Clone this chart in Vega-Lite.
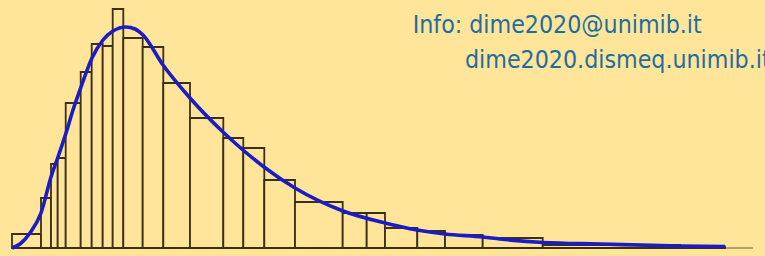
{
  "$schema": "https://vega.github.io/schema/vega-lite/v6.json",
  "width": 765,
  "height": 256,
  "autosize": {"type": "none"},
  "padding": 0,
  "background": "#FFE59A",
  "config": {"view": {"stroke": null}},
  "datasets": {
    "bins": [
      {"x0": 1.2, "x1": 4.1, "freq": 14},
      {"x0": 4.1, "x1": 5.1, "freq": 50},
      {"x0": 5.1, "x1": 5.77, "freq": 84},
      {"x0": 5.77, "x1": 6.57, "freq": 90},
      {"x0": 6.57, "x1": 8.07, "freq": 145},
      {"x0": 8.07, "x1": 9.17, "freq": 176},
      {"x0": 9.17, "x1": 10.27, "freq": 204},
      {"x0": 10.27, "x1": 11.27, "freq": 202},
      {"x0": 11.27, "x1": 12.33, "freq": 239},
      {"x0": 12.33, "x1": 14.27, "freq": 210},
      {"x0": 14.27, "x1": 16.33, "freq": 201},
      {"x0": 16.33, "x1": 19.0, "freq": 165},
      {"x0": 19.0, "x1": 22.33, "freq": 130},
      {"x0": 22.33, "x1": 24.33, "freq": 110},
      {"x0": 24.33, "x1": 26.43, "freq": 100},
      {"x0": 26.43, "x1": 29.5, "freq": 68},
      {"x0": 29.5, "x1": 34.27, "freq": 46},
      {"x0": 34.27, "x1": 36.67, "freq": 35},
      {"x0": 36.67, "x1": 38.5, "freq": 35},
      {"x0": 38.5, "x1": 41.73, "freq": 20},
      {"x0": 41.73, "x1": 44.5, "freq": 17},
      {"x0": 44.5, "x1": 48.27, "freq": 13},
      {"x0": 48.27, "x1": 54.27, "freq": 10},
      {"x0": 54.27, "x1": 68.0, "freq": 3},
      {"x0": 68.0, "x1": 72.5, "freq": 1.5}
    ],
    "curve": [
      {"x": 1.2, "d": 0},
      {"x": 2.0, "d": 4},
      {"x": 3.0, "d": 15},
      {"x": 4.1, "d": 35},
      {"x": 5.1, "d": 71},
      {"x": 5.8, "d": 91},
      {"x": 6.6, "d": 115},
      {"x": 7.3, "d": 138},
      {"x": 8.1, "d": 161},
      {"x": 9.2, "d": 190},
      {"x": 10.3, "d": 208},
      {"x": 11.3, "d": 217},
      {"x": 12.6, "d": 221},
      {"x": 13.5, "d": 219},
      {"x": 14.3, "d": 213},
      {"x": 16.3, "d": 183},
      {"x": 19.0, "d": 150},
      {"x": 22.3, "d": 116},
      {"x": 24.3, "d": 98},
      {"x": 26.4, "d": 81},
      {"x": 29.5, "d": 60},
      {"x": 34.3, "d": 37},
      {"x": 38.5, "d": 25},
      {"x": 41.7, "d": 18},
      {"x": 44.5, "d": 14},
      {"x": 48.3, "d": 11},
      {"x": 50.0, "d": 9},
      {"x": 54.3, "d": 5.5},
      {"x": 60.0, "d": 4},
      {"x": 68.0, "d": 2},
      {"x": 72.5, "d": 1.5}
    ],
    "axisline": [{"from": 1.2, "to": 75.3, "level": 0}],
    "info": [
      {"line": "Info: dime2020@unimib.it", "px": 41.27, "py": 215},
      {"line": "dime2020.dismeq.unimib.it", "px": 46.5, "py": 180}
    ]
  },
  "layer": [
    {
      "data": {"name": "axisline"},
      "mark": {"type": "rule", "color": "#6b5a30", "strokeWidth": 1},
      "encoding": {
        "x": {"field": "from", "type": "quantitative", "scale": {"domain": [0, 76.5]}, "axis": null},
        "x2": {"field": "to"},
        "y": {"field": "level", "type": "quantitative", "scale": {"domain": [-8, 248]}, "axis": null}
      }
    },
    {
      "data": {"name": "bins"},
      "mark": {"type": "bar", "fill": "#FFE59A", "stroke": "#3d2f15", "strokeWidth": 1.8},
      "encoding": {
        "x": {"field": "x0", "type": "quantitative", "scale": {"domain": [0, 76.5]}, "axis": null},
        "x2": {"field": "x1"},
        "y": {"field": "freq", "type": "quantitative", "scale": {"domain": [-8, 248]}, "axis": null},
        "y2": {"datum": 0}
      }
    },
    {
      "data": {"name": "curve"},
      "mark": {"type": "line", "color": "#1c1cc4", "strokeWidth": 3.6, "interpolate": "monotone"},
      "encoding": {
        "x": {"field": "x", "type": "quantitative", "scale": {"domain": [0, 76.5]}, "axis": null},
        "y": {"field": "d", "type": "quantitative", "scale": {"domain": [-8, 248]}, "axis": null}
      }
    },
    {
      "data": {"name": "info"},
      "mark": {"type": "text", "align": "left", "baseline": "alphabetic", "font": "DejaVu Sans Condensed, Liberation Sans", "fontSize": 24.7, "color": "#1e6d9e", "clip": true},
      "encoding": {
        "x": {"field": "px", "type": "quantitative", "scale": {"domain": [0, 76.5]}, "axis": null},
        "y": {"field": "py", "type": "quantitative", "scale": {"domain": [-8, 248]}, "axis": null},
        "text": {"field": "line"}
      }
    }
  ]
}
